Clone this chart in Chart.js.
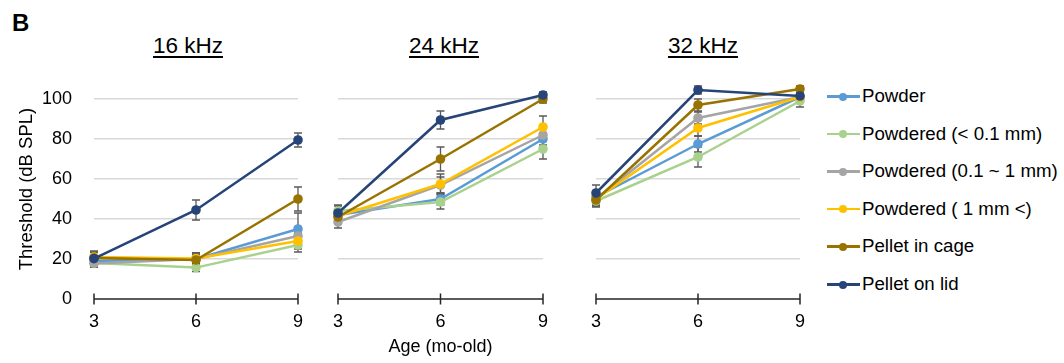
<!DOCTYPE html>
<html>
<head>
<meta charset="utf-8">
<script src="https://cdn.jsdelivr.net/npm/chart.js@4/dist/chart.umd.min.js"></script>
<style>
  body { margin: 0; width: 1064px; height: 363px; position: relative; overflow: hidden; background: #fff;
         font-family: "Liberation Sans", Arial, sans-serif; color: #000; }
  canvas { position: absolute; top: 0; }
  .panel-label { position: absolute; left: 12px; top: 11px; font-size: 24px; line-height: 24px; font-weight: bold; }
  .panel-title { position: absolute; top: 35px; width: 200px; text-align: center; font-size: 22.5px; line-height: 22px;
                 text-decoration: underline; text-underline-offset: 3px; text-decoration-thickness: 1.5px; }
  .legend-row { position: absolute; left: 826px; height: 22px; line-height: 22px; font-size: 18.7px; white-space: nowrap; }
  .legend-row .mark { position: absolute; left: 1px; top: 10px; width: 33px; height: 2.5px; }
  .legend-row .dot { position: absolute; left: 13px; top: 7.5px; width: 8px; height: 8px; border-radius: 50%; }
  .legend-row .txt { position: absolute; left: 36px; top: 0; }
</style>
</head>
<body>
<div class="panel-label">B</div>
<div class="panel-title" style="left:88px">16 kHz</div>
<div class="panel-title" style="left:344px">24 kHz</div>
<div class="panel-title" style="left:603px">32 kHz</div>
<canvas id="c16" width="318" height="363" style="left:0px"></canvas>
<canvas id="c24" width="245" height="363" style="left:318px"></canvas>
<canvas id="c32" width="244" height="363" style="left:576px"></canvas>
<div id="legend"></div>
<script>
const ages = ['3', '6', '9'];
const yTicks = [0, 20, 40, 60, 80, 100];
const seriesNames = ['Powder', 'Powdered (< 0.1 mm)', 'Powdered (0.1 ~ 1 mm)', 'Powdered ( 1 mm <)', 'Pellet in cage', 'Pellet on lid'];
const seriesColors = ['#5B9BD5', '#A9D18E', '#A5A5A5', '#FFC000', '#997300', '#264478'];

// 16 kHz thresholds (dB SPL) and error bars
const powder16 = [19, 20, 35];
const fine16 = [18, 15.7, 27];
const mid16 = [17.8, 20, 31.5];
const coarse16 = [21, 20.2, 29];
const cage16 = [20.5, 19.5, 50];
const lid16 = [20.2, 44.5, 79.5];
const err16 = [[2, 3, 8], [2, 2, 3.5], [2, 2, 4], [3, 3, 4], [3, 3, 6], [3, 5, 3.5]];

// 24 kHz
const powder24 = [42, 50, 80];
const fine24 = [44, 48.5, 75];
const mid24 = [38.5, 57, 82];
const coarse24 = [41.5, 57.5, 86];
const cage24 = [41, 70, 100];
const lid24 = [43, 89.5, 102];
const err24 = [[3, 3, 3], [3, 3.5, 5], [3, 4, 3], [3, 5, 5.5], [3, 6, 2], [3.5, 4.5, 1.5]];

// 32 kHz
const powder32 = [51, 77.5, 101];
const fine32 = [49, 71, 99];
const mid32 = [50, 90.5, 101];
const coarse32 = [50, 85.5, 101];
const cage32 = [49.5, 97, 105];
const lid32 = [53, 104.5, 101.5];
const err32 = [[3, 4, 2], [3, 5, 3], [3, 3, 2], [3, 4, 2], [3, 3, 1.5], [4, 2, 2]];

const tickFont = { family: '"Liberation Sans", Arial, sans-serif', size: 18 };

// error bars drawn under the markers
const errorBars = {
  id: 'errorBars',
  beforeDatasetsDraw(chart) {
    const { ctx, scales: { x, y } } = chart;
    ctx.save();
    ctx.strokeStyle = '#595959';
    ctx.lineWidth = 1.3;
    chart.data.datasets.forEach(ds => {
      ds.data.forEach((v, i) => {
        const e = ds.errors[i];
        const px = x.getPixelForValue(i);
        const top = y.getPixelForValue(v + e);
        const bot = y.getPixelForValue(v - e);
        ctx.beginPath();
        ctx.moveTo(px, top); ctx.lineTo(px, bot);
        ctx.moveTo(px - 4, top); ctx.lineTo(px + 4, top);
        ctx.moveTo(px - 4, bot); ctx.lineTo(px + 4, bot);
        ctx.stroke();
      });
    });
    ctx.restore();
  }
};

// x axis line with crossing tick marks
const axisLine = {
  id: 'axisLine',
  beforeDatasetsDraw(chart) {
    const { ctx, scales: { x, y } } = chart;
    const py = y.getPixelForValue(0);
    ctx.save();
    ctx.strokeStyle = '#262626';
    ctx.lineWidth = 1.5;
    ctx.beginPath();
    ctx.moveTo(x.getPixelForValue(0), py);
    ctx.lineTo(x.getPixelForValue(ages.length - 1), py);
    ages.forEach((a, i) => {
      const px = x.getPixelForValue(i);
      ctx.moveTo(px, py - 5.5);
      ctx.lineTo(px, py + 5.5);
    });
    ctx.stroke();
    ctx.restore();
  }
};

function makePanel(id, values, errors, yWidth, showY, showXTitle) {
  const ctx = document.getElementById(id).getContext('2d');
  return new Chart(ctx, {
    type: 'line',
    data: {
      labels: ages,
      datasets: values.map((v, i) => ({
        label: seriesNames[i],
        data: v,
        errors: errors[i],
        borderColor: seriesColors[i],
        backgroundColor: seriesColors[i],
        borderWidth: 2.5,
        pointRadius: 4.8,
        pointHoverRadius: 4.8,
        pointBorderWidth: 0,
        clip: false,
        order: seriesNames.length - i
      }))
    },
    options: {
      responsive: false,
      animation: false,
      devicePixelRatio: 1,
      layout: { padding: { top: 79, right: 20, bottom: 0, left: 0 } },
      plugins: { legend: { display: false }, tooltip: { enabled: false } },
      scales: {
        x: {
          grid: { display: false, drawTicks: false },
          border: { display: false },
          ticks: { padding: 12, font: tickFont, color: '#000' },
          title: { display: showXTitle, text: 'Age (mo-old)', font: tickFont, color: '#000', padding: { top: 0, bottom: 5 } },
          afterFit: s => { s.height = 64; }
        },
        y: {
          min: 0,
          max: 110,
          afterBuildTicks: s => { s.ticks = yTicks.map(v => ({ value: v })); },
          grid: { color: c => (c.tick && c.tick.value === 0) ? 'rgba(0,0,0,0)' : '#d9d9d9', lineWidth: 1.5, drawTicks: false },
          border: { display: false },
          ticks: { display: showY, padding: 22, font: tickFont, color: '#000' },
          title: { display: showY, text: 'Threshold (dB SPL)', font: { family: tickFont.family, size: 18.5 }, color: '#000', padding: { top: 16, bottom: 0 } },
          afterFit: s => { s.width = yWidth; }
        }
      }
    },
    plugins: [errorBars, axisLine]
  });
}

makePanel('c16', [powder16, fine16, mid16, coarse16, cage16, lid16], err16, 94, true, false);
makePanel('c24', [powder24, fine24, mid24, coarse24, cage24, lid24], err24, 20, false, true);
makePanel('c32', [powder32, fine32, mid32, coarse32, cage32, lid32], err32, 20, false, false);

// legend
const legend = document.getElementById('legend');
seriesNames.forEach((name, i) => {
  const row = document.createElement('div');
  row.className = 'legend-row';
  row.style.top = (96 + i * 37.6 - 11) + 'px';
  row.innerHTML = '<span class="mark" style="background:' + seriesColors[i] + '"></span>' +
    '<span class="dot" style="background:' + seriesColors[i] + '"></span>' +
    '<span class="txt"></span>';
  row.querySelector('.txt').textContent = name;
  legend.appendChild(row);
});
</script>
</body>
</html>
